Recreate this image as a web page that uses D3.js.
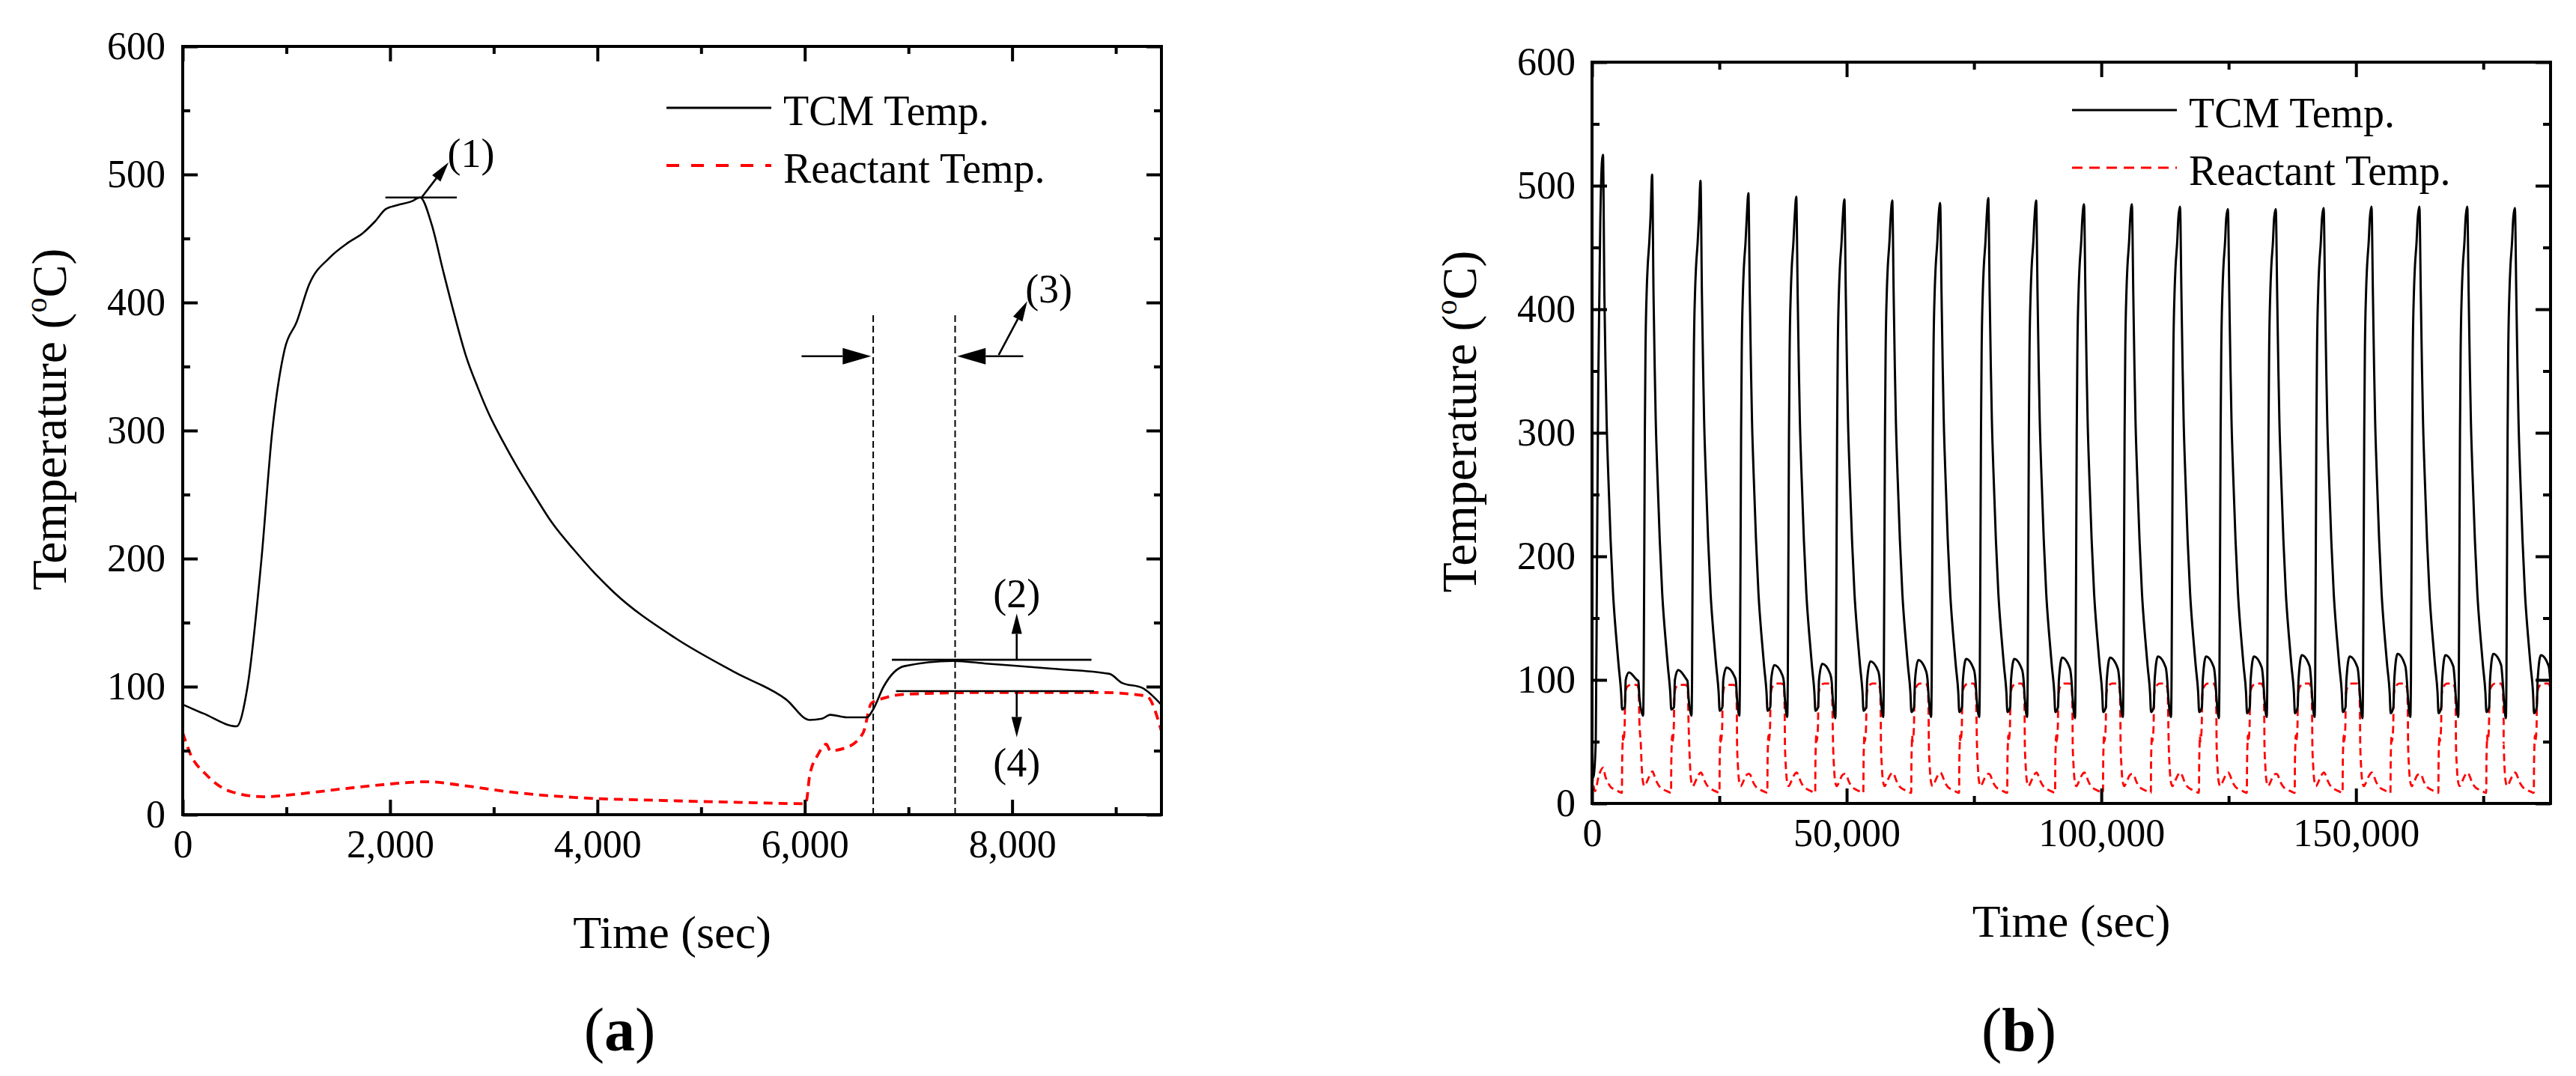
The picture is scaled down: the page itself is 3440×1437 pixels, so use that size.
<!DOCTYPE html>
<html>
<head>
<meta charset="utf-8">
<script src="https://cdn.jsdelivr.net/npm/d3@7"></script>
<style>
body { margin: 0; background: #fff; }
text { font-family: "Liberation Serif", "Times New Roman", serif; fill: #000; }
</style>
</head>
<body>
<svg id="fig" width="3440" height="1437"></svg>
<script>
// ---- panel (a): one cycle ----
var aTcmTime = [0, 200, 520, 625, 760, 863, 982, 1100, 1219, 1417, 1600, 1734, 1851, 1959, 2069, 2208, 2290, 2401, 2511, 2622, 2733, 2844, 2953, 3092, 3230, 3396, 3562, 3783, 4004, 4154, 4750, 5330, 5820, 6048, 6167, 6246, 6404, 6600, 6658, 6760, 6960, 7434, 7750, 8384, 8938, 9057, 9255, 9437];
var aTcmTemp = [86, 79, 69, 100, 200, 299, 363, 385, 414, 435, 447, 454, 463, 473, 476, 479, 482, 461, 425, 390, 358, 334, 313, 291, 271, 249, 228, 206, 186, 174, 138, 111, 90, 74, 75, 78, 76, 76, 82, 100, 116, 120, 118, 114, 110, 103, 99, 86];
var aReactTime = [0, 71, 230, 467, 784, 1100, 1417, 1813, 2367, 2684, 3159, 3792, 4584, 5375, 6009, 6048, 6128, 6207, 6246, 6404, 6563, 6642, 6761, 6959, 7750, 8859, 9295, 9437];
var aReactTemp = [64, 48, 31, 18, 14, 16, 19, 22.5, 25.7, 23, 17.7, 13.4, 11.2, 9.6, 8.6, 31, 47, 55, 50, 52.5, 64, 87, 91, 94, 95.4, 95.4, 92.7, 66];

// ---- panel (b): 20 cycles ----
var bPeakTime = [2150, 11800, 21300, 30700, 40100, 49550, 58950, 68350, 77800, 87200, 96600, 106000, 115450, 124850, 134250, 143650, 153050, 162450, 171850, 181200];
var bPeakTemp = [525, 509, 504, 494, 491, 489, 488, 486, 490, 488, 485, 485, 483, 481, 481, 482, 483, 483, 483, 482];
var bDrop = [20, 71, 71, 71, 70, 69, 70, 70, 70, 70, 69, 70, 70, 69, 70, 70, 69, 70, 70, 69];
var bTrough = [76, 76, 75, 75, 75, 75, 74, 74, 74, 74, 74, 74, 74, 73, 73, 74, 73, 73, 74, 73];
var bPlateau = [106, 108, 110, 112, 113, 115, 116, 117, 117, 118, 118, 119, 119, 119, 120, 119, 121, 120, 121, 120];
var bPlateauEnd = [100, 101, 103, 104, 105, 107, 107, 108, 108, 109, 109, 110, 110, 110, 111, 110, 111, 111, 112, 111];
var bReactBump = [29, 26, 25, 24, 25, 24, 25, 25, 24, 25, 25, 24, 25, 25, 24, 25, 25, 24, 25, 25];
var bReactPlateau = [96, 96, 96, 97, 97, 97, 97, 97, 97, 97, 97, 97, 97, 97, 97, 97, 97, 97, 97, 97];

// shape of one cycle in (b), seconds from the TCM peak
var bTcmOffset = [-1770, -1660, -1430, -1310, -1070, -870, -560, -320, 0, 280, 510, 710, 1030, 1500, 1980, 2530, 3090, 3560, 3760, 4300, 4470, 5100, 6650, 6950, 7150];
var bTcmShape = ["drop", 100, 300, 363, 414, 435, 454, 474, "peak", 411, 352, 310, 267, 213, 170, 138, 111, 90, "trough", 78, 100, "plateau", "plateauEnd", 99, 86];
var bReactOffset = [-2220, -2060, -1820, -1500, -1190, -870, -480, 80, 390, 870, 1500, 2290, 3090, 3720, 3760, 3840, 3920, 3960, 4110, 4270, 4350, 4470, 4670, 5460, 6570, 7000, 7150];
var bReactShape = [48, 31, 18, 14, 16, 19, 22.5, "bump", 23, 17.7, 13.4, 11.2, 9.6, 8.6, 31, 47, 55, 50, 52.5, 64, 87, 91, 94, "plateau", "plateau", 92.7, 66];
// start of the run (before first peak)
var bTcmStartTime = [0, 300, 735, 980, 1225, 1620, 1960];
var bTcmStartTemp = [20, 22, 51, 197, 342, 470, 520];
var bReactStartTime = [0, 600, 1300];
var bReactStartTemp = [24, 10, 22];

// ticks
var aXMajor = [0, 2000, 4000, 6000, 8000], aXMinor = [1000, 3000, 5000, 7000, 9000];
var bXMajor = [0, 50000, 100000, 150000], bXMinor = [25000, 75000, 125000, 175000];
var yMajor = [0, 100, 200, 300, 400, 500, 600], yMinor = [50, 150, 250, 350, 450, 550];

// annotations on (a)
var noteLines = [[1955, 2644, 482], [6840, 8765, 121], [6880, 8790, 96.5]];
var noteArrows = [[2304, 482, 2565, 509.5], [8044, 121, 8044, 157], [8044, 96.5, 8044, 60.5], [7870, 359, 8146, 401]];
var noteLabels = [["(1)", 2780, 517], ["(2)", 8044, 173], ["(3)", 8354, 411], ["(4)", 8044, 41]];
var markTimes = [6660, 7450];
var spanArrows = [[5969, 6640, 358], [8107, 7470, 358]];

var svg = d3.select("#fig");
var fmt = d3.format(",");

function zipPts(t, v) { return t.map(function (d, i) { return [d, v[i]]; }); }

function cyclePts(offsets, shape, levels, startT, startV) {
  var pts = [];
  bPeakTime.forEach(function (p, c) {
    if (c === 0) pts = pts.concat(zipPts(startT, startV));
    offsets.forEach(function (o, k) {
      if (c === 0 && o < 0) return;
      var s = shape[k];
      var v = (typeof s === "string") ? levels[s][c] : s;
      pts.push([p + o, v]);
    });
  });
  return pts;
}

var bTcm = cyclePts(bTcmOffset, bTcmShape,
  { drop: bDrop, peak: bPeakTemp, trough: bTrough, plateau: bPlateau, plateauEnd: bPlateauEnd },
  bTcmStartTime, bTcmStartTemp);
var bReact = cyclePts(bReactOffset, bReactShape,
  { bump: bReactBump, plateau: bReactPlateau },
  bReactStartTime, bReactStartTemp);

function panel(opt) {
  var x = d3.scaleLinear().domain(opt.xDomain).range([opt.left, opt.right]);
  var y = d3.scaleLinear().domain([0, 600]).range([opt.bottom, opt.top]);
  var g = svg.append("g");
  var w = opt.right - opt.left, h = opt.bottom - opt.top;

  g.append("clipPath").attr("id", opt.id + "clip")
    .append("rect").attr("x", opt.left).attr("y", opt.top).attr("width", w).attr("height", h);

  var line = d3.line().x(function (d) { return x(d[0]); }).y(function (d) { return y(d[1]); })
    .curve(d3.curveMonotoneX);

  var plot = g.append("g").attr("clip-path", "url(#" + opt.id + "clip)");
  plot.append("path").attr("d", line(opt.react)).attr("fill", "none")
    .attr("stroke", "#ff0000").attr("stroke-width", opt.redW).attr("stroke-dasharray", opt.dash);
  plot.append("path").attr("d", line(opt.tcm)).attr("fill", "none")
    .attr("stroke", "#000").attr("stroke-width", opt.blackW).attr("stroke-linejoin", "round");

  // axes, ticks inside on all four sides
  function ax(a, tr, vals, size, labels, pad) {
    var s = g.append("g").attr("transform", tr)
      .call(a.tickValues(vals).tickSizeInner(-size).tickSizeOuter(0).tickPadding(pad)
        .tickFormat(labels ? fmt : ""));
    s.select(".domain").remove();
    s.selectAll("line").attr("stroke", "#000").attr("stroke-width", 4);
    s.attr("font-family", null).attr("font-size", 52);
  }
  ax(d3.axisBottom(x), "translate(0," + opt.bottom + ")", opt.xMajor, 20, true, 20);
  ax(d3.axisBottom(x), "translate(0," + opt.bottom + ")", opt.xMinor, 10, false, 0);
  ax(d3.axisTop(x), "translate(0," + opt.top + ")", opt.xMajor, 20, false, 0);
  ax(d3.axisTop(x), "translate(0," + opt.top + ")", opt.xMinor, 10, false, 0);
  ax(d3.axisLeft(y), "translate(" + opt.left + ",0)", yMajor, 20, true, opt.yPad);
  ax(d3.axisLeft(y), "translate(" + opt.left + ",0)", yMinor, 10, false, 0);
  ax(d3.axisRight(y), "translate(" + opt.right + ",0)", yMajor, 20, false, 0);
  ax(d3.axisRight(y), "translate(" + opt.right + ",0)", yMinor, 10, false, 0);

  g.append("rect").attr("x", opt.left).attr("y", opt.top).attr("width", w).attr("height", h)
    .attr("fill", "none").attr("stroke", "#000").attr("stroke-width", 4);

  // legend
  var lg = g.append("g");
  lg.append("line").attr("x1", opt.legX).attr("x2", opt.legX + 140).attr("y1", opt.legY).attr("y2", opt.legY)
    .attr("stroke", "#000").attr("stroke-width", 3);
  lg.append("line").attr("x1", opt.legX).attr("x2", opt.legX + 140).attr("y1", opt.legY + 77).attr("y2", opt.legY + 77)
    .attr("stroke", "#ff0000").attr("stroke-width", opt.redW).attr("stroke-dasharray", opt.legDash);
  lg.append("text").attr("x", opt.legX + 156).attr("y", opt.legY + 23).attr("font-size", 56).text("TCM Temp.");
  lg.append("text").attr("x", opt.legX + 156).attr("y", opt.legY + 100).attr("font-size", 56).text("Reactant Temp.");

  // titles
  var cx = (opt.left + opt.right) / 2;
  g.append("text").attr("x", cx).attr("y", opt.bottom + 178).attr("text-anchor", "middle")
    .attr("font-size", 62).text("Time (sec)");
  var yt = g.append("text").attr("transform", "translate(" + opt.yTitleX + "," + (opt.top + h / 2 - 15) + ") rotate(-90)")
    .attr("text-anchor", "middle").attr("font-size", 66);
  yt.append("tspan").text("Temperature (");
  yt.append("tspan").attr("font-size", 40).attr("dy", -26).text("o");
  yt.append("tspan").attr("dy", 26).text("C)");

  var lab = g.append("text").attr("x", cx - 70).attr("y", 1403).attr("text-anchor", "middle").attr("font-size", 82);
  lab.append("tspan").text("(");
  lab.append("tspan").attr("font-weight", "bold").text(opt.tag);
  lab.append("tspan").text(")");

  return { g: g, x: x, y: y };
}

var A = panel({
  id: "a", left: 244, right: 1551, top: 62, bottom: 1088, xDomain: [0, 9440],
  xMajor: aXMajor, xMinor: aXMinor, yPad: 23, yTitleX: 88,
  tcm: zipPts(aTcmTime, aTcmTemp), react: zipPts(aReactTime, aReactTemp),
  blackW: 2.6, redW: 3.8, dash: "12,8", legDash: "17,16", legX: 890, legY: 144, tag: "a"
});
var B = panel({
  id: "b", left: 2126, right: 3406, top: 83, bottom: 1073, xDomain: [0, 188200],
  xMajor: bXMajor, xMinor: bXMinor, yPad: 22, yTitleX: 1971,
  tcm: bTcm, react: bReact,
  blackW: 3, redW: 2.8, dash: "10,6", legDash: "14,9", legX: 2767, legY: 147, tag: "b"
});

// annotations on (a)
function arrow(g, x1, y1, x2, y2, len, hw) {
  var a = Math.atan2(y2 - y1, x2 - x1);
  var bx = x2 - len * Math.cos(a), by = y2 - len * Math.sin(a);
  g.append("line").attr("x1", x1).attr("y1", y1).attr("x2", bx).attr("y2", by)
    .attr("stroke", "#000").attr("stroke-width", 2.6);
  g.append("path").attr("fill", "#000")
    .attr("d", "M" + x2 + "," + y2 + "L" + (bx + hw * Math.sin(a)) + "," + (by - hw * Math.cos(a)) +
      "L" + (bx - hw * Math.sin(a)) + "," + (by + hw * Math.cos(a)) + "Z");
}
var ng = A.g.append("g");
markTimes.forEach(function (t) {
  ng.append("line").attr("x1", A.x(t)).attr("x2", A.x(t)).attr("y1", A.y(0)).attr("y2", A.y(393))
    .attr("stroke", "#000").attr("stroke-width", 2).attr("stroke-dasharray", "9,5");
});
noteLines.forEach(function (d) {
  ng.append("line").attr("x1", A.x(d[0])).attr("x2", A.x(d[1])).attr("y1", A.y(d[2])).attr("y2", A.y(d[2]))
    .attr("stroke", "#000").attr("stroke-width", 2.6);
});
noteArrows.forEach(function (d) {
  arrow(ng, A.x(d[0]), A.y(d[1]), A.x(d[2]), A.y(d[3]), 27, 7);
});
spanArrows.forEach(function (d) {
  arrow(ng, A.x(d[0]), A.y(d[2]), A.x(d[1]), A.y(d[2]), 38, 11);
});
noteLabels.forEach(function (d) {
  ng.append("text").attr("x", A.x(d[1])).attr("y", A.y(d[2])).attr("dy", "0.35em")
    .attr("text-anchor", "middle").attr("font-size", 54).text(d[0]);
});
</script>
</body>
</html>
